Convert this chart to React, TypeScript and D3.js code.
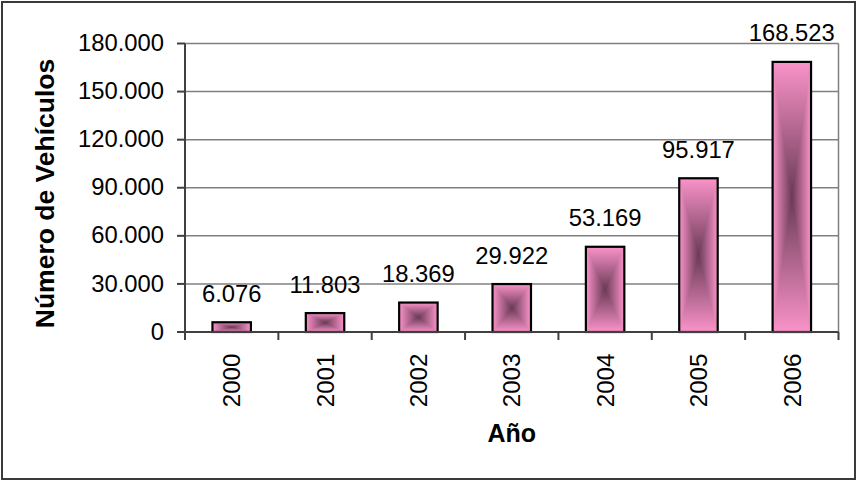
import React from "react";
import * as d3 from "d3";

// Registered vehicles per year
const years: string[] = ["2000", "2001", "2002", "2003", "2004", "2005", "2006"];
const vehicles: number[] = [6076, 11803, 18369, 29922, 53169, 95917, 168523];
const yTicks: number[] = [0, 30000, 60000, 90000, 120000, 150000, 180000];
const yTitle = "Número de Vehículos";
const xTitle = "Año";

const W = 857;
const H = 481;
const plot = { left: 185, right: 838.5, top: 43.5, bottom: 332 };

const locale = d3.formatLocale({
  decimal: ",",
  thousands: ".",
  grouping: [3],
  currency: ["", " €"],
});
const fmt = locale.format(",d");

const FONT = "'Liberation Sans', Arial, Helvetica, sans-serif";
const EDGE = "#fa93c9";
const CENTER = "#6a3a56";

export default function App() {
  const x = d3
    .scaleBand<string>()
    .domain(years)
    .range([plot.left, plot.right])
    .paddingInner(0.588)
    .paddingOuter(0.294);
  const step = (plot.right - plot.left) / years.length;
  const y = d3.scaleLinear().domain([0, 180000]).range([plot.bottom, plot.top]);

  const boundaries = d3.range(years.length + 1).map((i) => plot.left + i * step);

  return (
    <svg
      width={W}
      height={H}
      style={{ position: "absolute", left: 0, top: 0, background: "#fff" }}
      fontFamily={FONT}
    >
      <defs>
        <linearGradient id="barH" x1="0" y1="0" x2="1" y2="0">
          <stop offset="0" stopColor={EDGE} />
          <stop offset="0.5" stopColor={CENTER} />
          <stop offset="1" stopColor={EDGE} />
        </linearGradient>
        <linearGradient id="barV" x1="0" y1="0" x2="0" y2="1">
          <stop offset="0" stopColor={EDGE} />
          <stop offset="0.5" stopColor={CENTER} />
          <stop offset="1" stopColor={EDGE} />
        </linearGradient>
      </defs>

      <rect x={2} y={2} width={W - 4} height={H - 4} fill="#fff" stroke="#3a3a3a" strokeWidth={2} />

      {/* gridlines */}
      {yTicks.map((t) => (
        <line
          key={"g" + t}
          x1={plot.left}
          x2={plot.right}
          y1={y(t)}
          y2={y(t)}
          stroke="#808080"
          strokeWidth={1.5}
        />
      ))}
      <line x1={plot.right} x2={plot.right} y1={plot.top} y2={plot.bottom} stroke="#808080" strokeWidth={1.5} />

      {/* bars with a rectangular centre gradient */}
      {years.map((yr, i) => {
        const x0 = x(yr)!;
        const w = x.bandwidth();
        const x1 = x0 + w;
        const y0 = y(vehicles[i]);
        const y1 = y(0);
        const cx = x0 + w / 2;
        const cy = (y0 + y1) / 2;
        const hourglass = `M${x0},${y0}L${x1},${y0}L${cx},${cy}Z M${x0},${y1}L${x1},${y1}L${cx},${cy}Z`;
        return (
          <g key={yr}>
            <rect x={x0} y={y0} width={w} height={y1 - y0} fill="url(#barH)" />
            <path d={hourglass} fill="url(#barV)" />
            <rect x={x0} y={y0} width={w} height={y1 - y0} fill="none" stroke="#000" strokeWidth={2.2} />
            <text
              x={cx}
              y={y0 - 20.5}
              textAnchor="middle"
              fontSize={23.8}
              fill="#000"
            >
              {fmt(vehicles[i])}
            </text>
          </g>
        );
      })}

      {/* y axis */}
      <line x1={plot.left} x2={plot.left} y1={plot.top} y2={plot.bottom} stroke="#404040" strokeWidth={2} />
      {yTicks.map((t) => (
        <g key={"t" + t}>
          <line x1={plot.left - 8} x2={plot.left} y1={y(t)} y2={y(t)} stroke="#404040" strokeWidth={2} />
          <text x={164} y={y(t)} dy="0.32em" textAnchor="end" fontSize={23.8} fill="#000">
            {fmt(t)}
          </text>
        </g>
      ))}

      {/* x axis */}
      <line x1={plot.left} x2={plot.right} y1={plot.bottom} y2={plot.bottom} stroke="#404040" strokeWidth={2} />
      {boundaries.map((bx, i) => (
        <line key={"b" + i} x1={bx} x2={bx} y1={plot.bottom} y2={plot.bottom + 8} stroke="#404040" strokeWidth={2} />
      ))}
      {years.map((yr) => {
        const cx = x(yr)! + x.bandwidth() / 2;
        return (
          <text
            key={"l" + yr}
            transform={`translate(${cx},353.5) rotate(-90)`}
            dy="0.36em"
            textAnchor="end"
            fontSize={24.2}
            fill="#000"
          >
            {yr}
          </text>
        );
      })}

      {/* axis titles */}
      <text
        transform={`translate(54,193.5) rotate(-90)`}
        textAnchor="middle"
        fontSize={26.5}
        fontWeight="bold"
        fill="#000"
      >
        {yTitle}
      </text>
      <text x={(plot.left + plot.right) / 2} y={441.7} textAnchor="middle" fontSize={25} fontWeight="bold" fill="#000">
        {xTitle}
      </text>
    </svg>
  );
}
